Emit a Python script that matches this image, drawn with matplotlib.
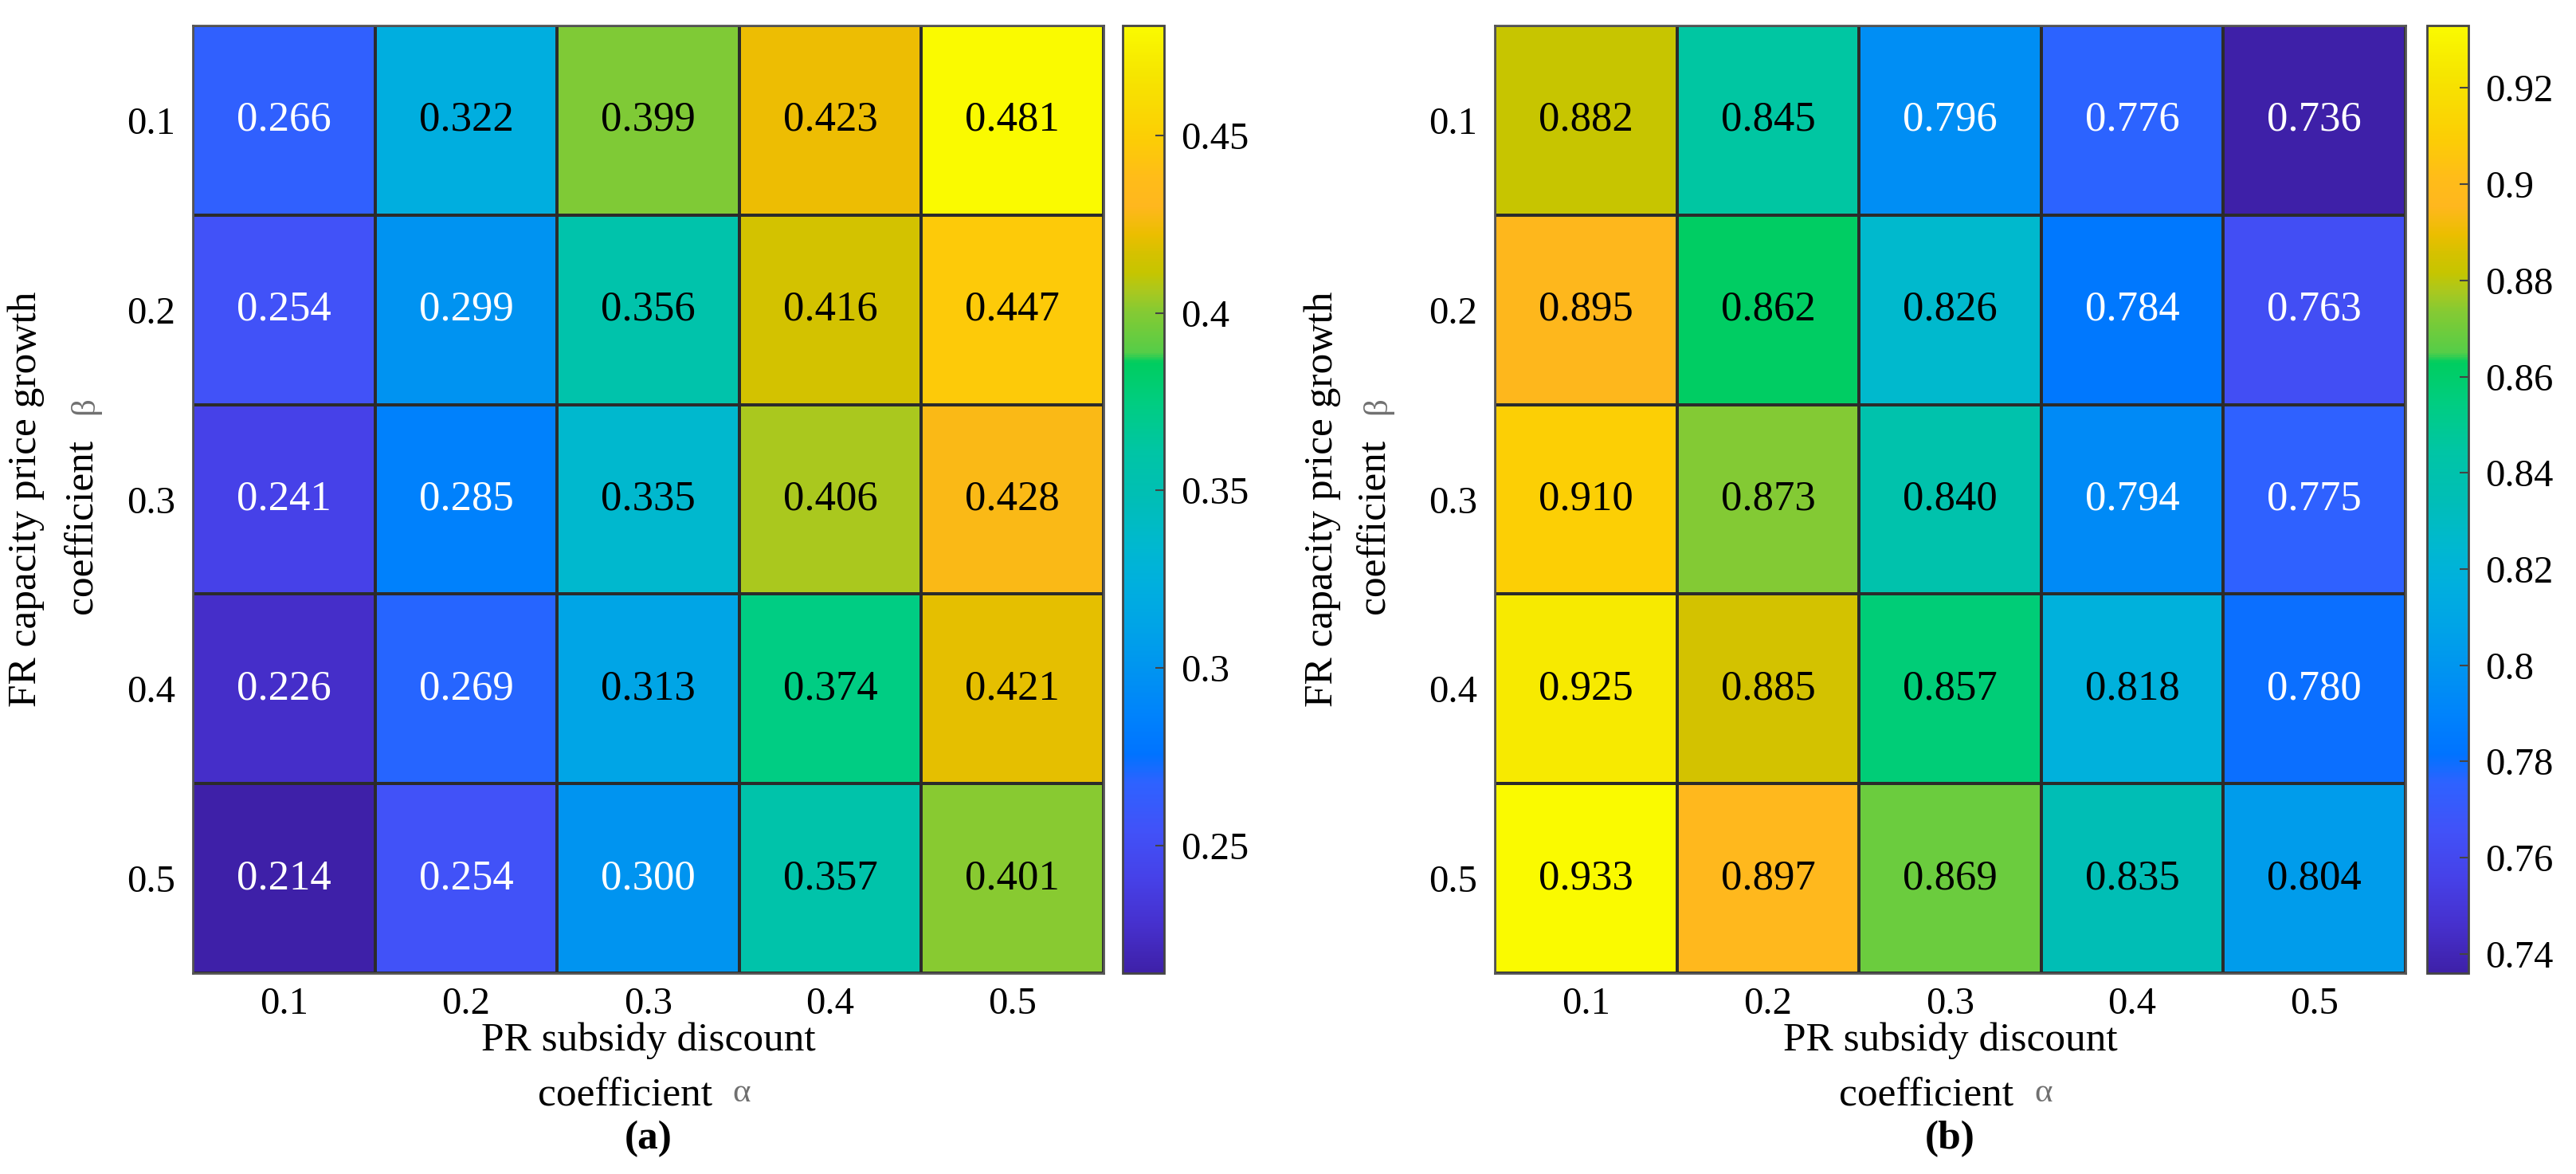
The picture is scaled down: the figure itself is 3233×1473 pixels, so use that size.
import numpy as np
import matplotlib
matplotlib.use("Agg")
import matplotlib.pyplot as plt
from matplotlib.colors import LinearSegmentedColormap, Normalize

# ---------------- data ----------------
alpha_labels = ["0.1", "0.2", "0.3", "0.4", "0.5"]
beta_labels = ["0.1", "0.2", "0.3", "0.4", "0.5"]

values_a = [
    [0.266, 0.322, 0.399, 0.423, 0.481],
    [0.254, 0.299, 0.356, 0.416, 0.447],
    [0.241, 0.285, 0.335, 0.406, 0.428],
    [0.226, 0.269, 0.313, 0.374, 0.421],
    [0.214, 0.254, 0.300, 0.357, 0.401],
]
values_b = [
    [0.882, 0.845, 0.796, 0.776, 0.736],
    [0.895, 0.862, 0.826, 0.784, 0.763],
    [0.910, 0.873, 0.840, 0.794, 0.775],
    [0.925, 0.885, 0.857, 0.818, 0.780],
    [0.933, 0.897, 0.869, 0.835, 0.804],
]
cbar_ticks_a = [0.25, 0.30, 0.35, 0.40, 0.45]
cbar_labels_a = ["0.25", "0.3", "0.35", "0.4", "0.45"]
cbar_ticks_b = [0.74, 0.76, 0.78, 0.80, 0.82, 0.84, 0.86, 0.88, 0.90, 0.92]
cbar_labels_b = ["0.74", "0.76", "0.78", "0.8", "0.82", "0.84", "0.86", "0.88", "0.9", "0.92"]

xlabel_line1 = "PR subsidy discount"
xlabel_line2 = "coefficient"
ylabel_line1 = "FR capacity price growth"
ylabel_line2 = "coefficient"
panel_tags = ["(a)", "(b)"]

# ---------------- style ----------------
anchors = [
    (0.00, (62, 32, 168)), (0.05, (70, 48, 205)), (0.10, (70, 65, 232)),
    (0.15, (65, 82, 248)), (0.20, (46, 98, 255)), (0.23, (0, 115, 255)),
    (0.27, (0, 130, 252)), (0.32, (0, 148, 240)), (0.37, (0, 165, 230)),
    (0.41, (0, 175, 222)), (0.45, (0, 184, 208)), (0.50, (0, 190, 182)),
    (0.55, (0, 197, 165)), (0.60, (0, 205, 130)), (0.645, (0, 205, 95)),
    (0.655, (85, 205, 72)), (0.70, (135, 202, 50)), (0.72, (170, 200, 30)),
    (0.74, (198, 197, 0)), (0.76, (213, 193, 0)), (0.78, (235, 190, 0)),
    (0.81, (255, 183, 30)), (0.84, (255, 188, 25)), (0.88, (252, 205, 5)),
    (0.95, (246, 230, 0)), (1.00, (250, 250, 0)),
]
cmap = LinearSegmentedColormap.from_list(
    "parula_like", [(t, tuple(c / 255 for c in rgb)) for t, rgb in anchors], N=512)

plt.rcParams["font.family"] = ["Liberation Serif", "DejaVu Serif"]

W, H = 3233, 1473
DPI = 100
fig = plt.figure(figsize=(W / DPI, H / DPI), dpi=DPI)


def fx(px):
    return px / W


def fy(py):
    return 1 - py / H


panels = [
    dict(data=values_a, ax_x=242, cb_x=1409, ticks=cbar_ticks_a, tlabels=cbar_labels_a,
         yl1=33, yl2=103, tag=panel_tags[0]),
    dict(data=values_b, ax_x=1876, cb_x=3046, ticks=cbar_ticks_b, tlabels=cbar_labels_b,
         yl1=1660, yl2=1725, tag=panel_tags[1]),
]

ax_top, ax_bot = 32, 1221
ax_w = 1143
cb_w = 52
val_fs = 38
tick_fs = 35
lab_fs = 37
greek_fs = 31
grey = "#707070"

for p in panels:
    data = np.array(p["data"])
    vmin, vmax = data.min(), data.max()
    norm = Normalize(vmin=vmin, vmax=vmax)
    ax = fig.add_axes([fx(p["ax_x"]), fy(ax_bot), ax_w / W, (ax_bot - ax_top) / H])
    mesh = ax.pcolormesh(np.arange(6), np.arange(6), data, cmap=cmap, norm=norm,
                         edgecolors="#2b2b2b", linewidth=1.6)
    ax.set_xlim(0, 5)
    ax.set_ylim(5, 0)
    ax.set_xticks(np.arange(5) + 0.5)
    ax.set_xticklabels(alpha_labels, fontsize=tick_fs)
    ax.set_yticks(np.arange(5) + 0.5)
    ax.set_yticklabels(beta_labels, fontsize=tick_fs)
    ax.tick_params(length=0, pad=16)
    ax.tick_params(axis="x", pad=12)
    for s in ax.spines.values():
        s.set_color("#555555")
        s.set_linewidth(2)
    for i in range(5):
        for j in range(5):
            v = data[i, j]
            col = "white" if norm(v) < 0.33 else "black"
            ax.text(j + 0.5, i + 0.5, f"{v:.3f}", ha="center", va="center",
                    fontsize=val_fs, color=col)

    # colorbar
    cax = fig.add_axes([fx(p["cb_x"]), fy(ax_bot), cb_w / W, (ax_bot - ax_top) / H])
    cb = fig.colorbar(mesh, cax=cax)
    cb.set_ticks(p["ticks"])
    cb.set_ticklabels(p["tlabels"])
    cb.ax.tick_params(direction="in", length=8, width=1.5, color="#444444",
                      labelsize=tick_fs, pad=15)
    cb.outline.set_edgecolor("#444444")
    cb.outline.set_linewidth(2)

    # x label (two lines, grey alpha)
    cx = p["ax_x"] + ax_w / 2
    fig.text(fx(cx), fy(1306), xlabel_line1, ha="center", va="center", fontsize=lab_fs)
    fig.text(fx(cx + 80), fy(1375), xlabel_line2, ha="right", va="center", fontsize=lab_fs)
    fig.text(fx(cx + 106), fy(1372), "α", ha="left", va="center", fontsize=greek_fs,
             color=grey)
    fig.text(fx(cx), fy(1429), p["tag"], ha="center", va="center", fontsize=lab_fs,
             fontweight="bold")

    # y label (two lines, rotated, grey beta)
    cy = (ax_top + ax_bot) / 2
    fig.text(fx(p["yl1"]), fy(cy), ylabel_line1, rotation=90, ha="center", va="center",
             fontsize=lab_fs, rotation_mode="anchor")
    fig.text(fx(p["yl2"]), fy(cy + 143), ylabel_line2, rotation=90, ha="left",
             va="center", fontsize=lab_fs, rotation_mode="anchor")
    fig.text(fx(p["yl2"] + 4), fy(cy - 106), "β", rotation=90, ha="left", va="center",
             fontsize=greek_fs, color=grey, rotation_mode="anchor")

fig.savefig("out.png", dpi=DPI, facecolor="white")
